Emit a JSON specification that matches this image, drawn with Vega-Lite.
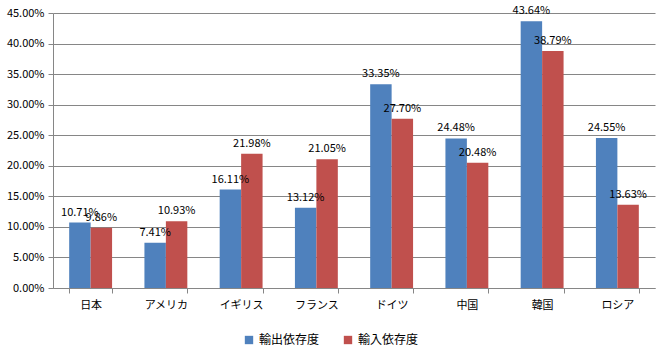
{
  "$schema": "https://vega.github.io/schema/vega-lite/v6.json",
  "autosize": "none",
  "width": 602,
  "height": 275,
  "padding": {"left": 53, "top": 13, "right": 7, "bottom": 65},
  "background": "white",
  "config": {
    "font": "Noto Sans CJK JP",
    "view": {"stroke": null},
    "axis": {"labelFont": "Noto Sans CJK JP", "labelFontSize": 11, "labelColor": "#000000"}
  },
  "data": {
    "values": [
      {"country": "日本", "series": "輸出依存度", "value": 0.1071},
      {"country": "日本", "series": "輸入依存度", "value": 0.0986},
      {"country": "アメリカ", "series": "輸出依存度", "value": 0.0741},
      {"country": "アメリカ", "series": "輸入依存度", "value": 0.1093},
      {"country": "イギリス", "series": "輸出依存度", "value": 0.1611},
      {"country": "イギリス", "series": "輸入依存度", "value": 0.2198},
      {"country": "フランス", "series": "輸出依存度", "value": 0.1312},
      {"country": "フランス", "series": "輸入依存度", "value": 0.2105},
      {"country": "ドイツ", "series": "輸出依存度", "value": 0.3335},
      {"country": "ドイツ", "series": "輸入依存度", "value": 0.2770},
      {"country": "中国", "series": "輸出依存度", "value": 0.2448},
      {"country": "中国", "series": "輸入依存度", "value": 0.2048},
      {"country": "韓国", "series": "輸出依存度", "value": 0.4364},
      {"country": "韓国", "series": "輸入依存度", "value": 0.3879},
      {"country": "ロシア", "series": "輸出依存度", "value": 0.2455},
      {"country": "ロシア", "series": "輸入依存度", "value": 0.1363}
    ]
  },
  "encoding": {
    "x": {
      "field": "country", "type": "nominal", "sort": null, "title": null,
      "scale": {"paddingInner": 0.43, "paddingOuter": 0.215},
      "axis": {"labelAngle": 0, "tickBand": "extent", "domainColor": "#868686", "tickColor": "#868686", "tickSize": 5, "labelPadding": 6}
    },
    "xOffset": {"field": "series", "type": "nominal", "sort": ["輸出依存度", "輸入依存度"]},
    "y": {
      "field": "value", "type": "quantitative", "title": null,
      "scale": {"domain": [0, 0.45], "nice": false},
      "axis": {"format": ".2%", "values": [0, 0.05, 0.1, 0.15, 0.2, 0.25, 0.3, 0.35, 0.4, 0.45], "gridColor": "#868686", "domainColor": "#868686", "tickColor": "#868686", "tickSize": 5, "labelPadding": 4}
    }
  },
  "layer": [
    {
      "mark": {"type": "bar"},
      "encoding": {
        "color": {
          "field": "series", "type": "nominal", "sort": ["輸出依存度", "輸入依存度"],
          "scale": {"range": ["#4F81BD", "#C0504D"]},
          "legend": {"title": null, "orient": "none", "legendX": 190, "legendY": 321, "direction": "horizontal", "symbolType": "square", "symbolSize": 70, "symbolStrokeWidth": 0, "labelFontSize": 12, "labelFont": "Noto Sans CJK JP", "columnPadding": 22, "labelColor": "#000000"}
        }
      }
    },
    {
      "mark": {"type": "text", "baseline": "bottom", "dy": -5, "fontSize": 11, "color": "#000000", "font": "Noto Sans CJK JP"},
      "encoding": {
        "text": {"field": "value", "type": "quantitative", "format": ".2%"}
      }
    }
  ]
}
